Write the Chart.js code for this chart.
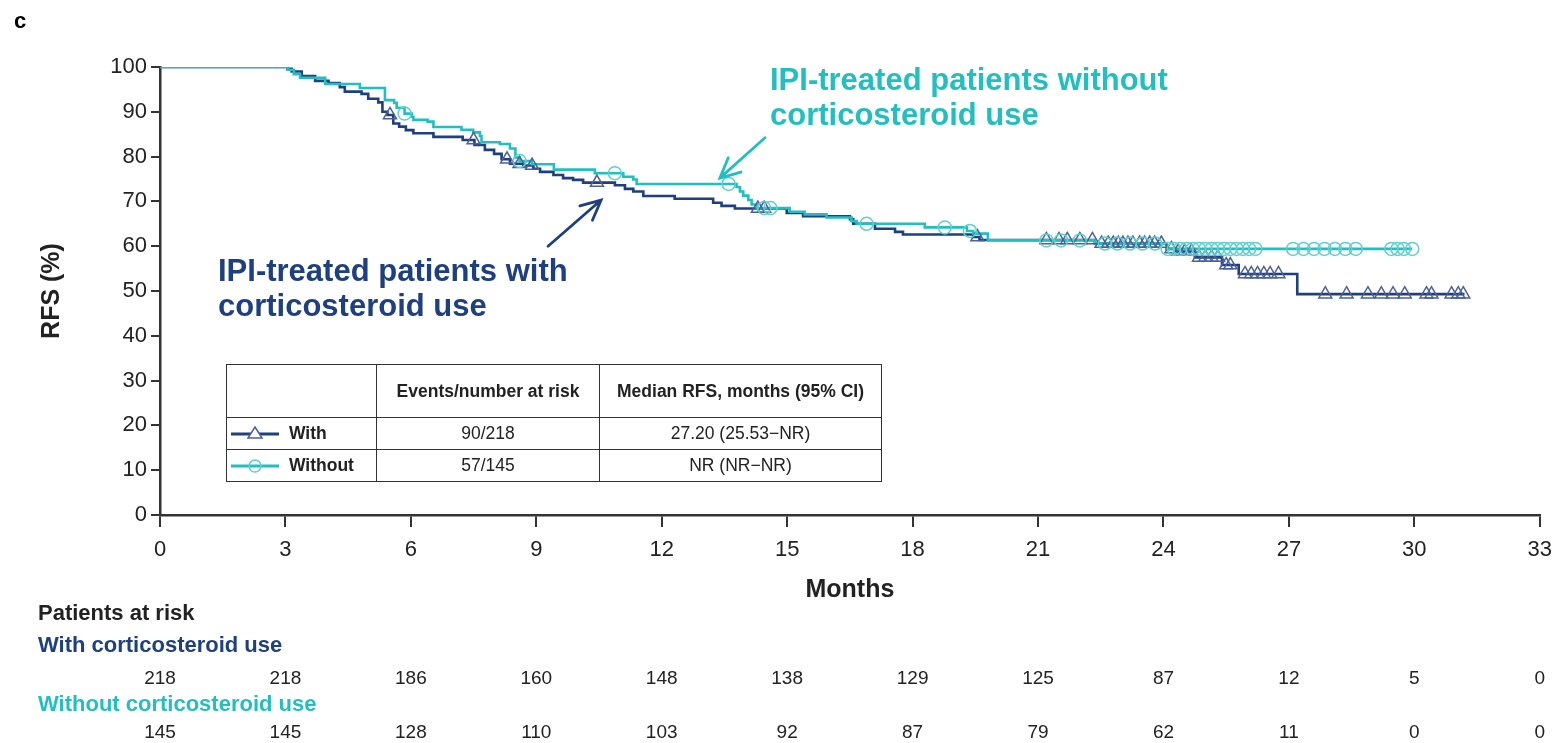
<!DOCTYPE html>
<html>
<head>
<meta charset="utf-8">
<script src="https://cdn.jsdelivr.net/npm/chart.js@4.4.0/dist/chart.umd.min.js"></script>
<style>
  body { margin: 0; background: #fff; font-family: "Liberation Sans", Arial, sans-serif; }
  #wrap { position: relative; width: 1562px; height: 743px; overflow: hidden; }
  #km { position: absolute; left: 0; top: 0; }
  .abs { position: absolute; white-space: nowrap; }
  .note { font-weight: bold; font-size: 31px; line-height: 35px; }
  #legtab { position: absolute; left: 226px; top: 364px; border-collapse: collapse; color: #222; font-size: 17.5px; }
  #legtab td { border: 1.5px solid #333; text-align: center; padding: 0; }
  #legtab .hd td { height: 52px; font-weight: bold; }
  #legtab .rw td { height: 31px; }
  #legtab td.nm { text-align: left; font-weight: bold; }
  #legtab svg { vertical-align: middle; margin: 0 10px 0 4px; }
  .risk { font-size: 19px; line-height: 22px; color: #222; transform: translateX(-50%); }
  .rlab { font-size: 22px; line-height: 26px; font-weight: bold; left: 38px; }
</style>
</head>
<body>
<div id="wrap">
  <canvas id="km" width="1562" height="743"></canvas>
  <div class="abs" style="left:14px;top:8px;font-weight:bold;font-size:22px;">c</div>
  <div class="abs note" style="left:770px;top:62px;color:#22bfc0;">IPI-treated patients without<br>corticosteroid use</div>
  <div class="abs note" style="left:218px;top:253px;color:#1e3f80;">IPI-treated patients with<br>corticosteroid use</div>
  <table id="legtab">
    <tr class="hd"><td style="width:149px"></td><td style="width:222px">Events/number at risk</td><td style="width:281px">Median RFS, months (95% CI)</td></tr>
    <tr class="rw"><td class="nm"><svg width="48" height="16"><line x1="0" y1="8" x2="48" y2="8" stroke="#1e3f80" stroke-width="3"/><polygon points="24,1 31,12 17,12" fill="#fff" stroke="#4d6199" stroke-width="1.5"/></svg>With</td><td>90/218</td><td>27.20 (25.53&minus;NR)</td></tr>
    <tr class="rw"><td class="nm"><svg width="48" height="16"><line x1="0" y1="8" x2="48" y2="8" stroke="#22bfc0" stroke-width="3"/><circle cx="24" cy="8" r="6" fill="none" stroke="#5fcfcf" stroke-width="1.5"/></svg>Without</td><td>57/145</td><td>NR (NR&minus;NR)</td></tr>
  </table>
  <div class="abs rlab" style="top:600px;color:#222;">Patients at risk</div>
  <div class="abs rlab" style="top:632px;color:#1e3f80;">With corticosteroid use</div>
  <div class="abs rlab" style="top:691px;color:#22bfc0;">Without corticosteroid use</div>
</div>
<script>
// Kaplan-Meier RFS, months vs %
const monthTicks = [0, 3, 6, 9, 12, 15, 18, 21, 24, 27, 30, 33];

// with corticosteroid use (step times / RFS after drop)
const withT = [0,3.05,3.15,3.39,3.71,4.03,4.3,4.42,4.82,4.98,5.22,5.32,5.44,5.58,5.72,5.88,6.06,6.54,7.24,7.52,7.77,7.99,8.17,8.37,8.69,8.93,9.09,9.41,9.64,9.88,10.12,10.88,11.12,11.32,11.56,12.31,13.23,13.43,13.75,14.99,15.38,16.5,16.58,17.1,17.58,17.77,19.45,19.6,22.36,24.07,24.3,24.75,25.4,25.8,27.2,31.2];
const withS = [100,99.6,99.0,98.0,96.9,96.4,95.5,94.5,94.0,92.9,92.1,90.0,89.3,87.4,86.7,85.9,85.2,84.4,83.7,82.6,81.5,80.6,79.4,78.4,78.0,77.3,76.6,75.9,75.2,74.8,74.2,73.6,72.8,72.2,71.2,70.6,69.7,69.0,68.4,67.4,66.7,66.0,65.0,63.9,63.2,62.6,62.05,61.4,60.6,59.4,58.8,57.5,55.8,53.8,49.3,49.3];
const withCensor = [5.5,7.5,8.3,8.6,8.9,10.45,14.3,14.45,19.55,21.2,21.5,21.7,22.0,22.3,22.52,22.68,22.8,22.92,23.03,23.15,23.27,23.43,23.55,23.67,23.79,23.95,24.19,24.35,24.51,24.67,24.85,25.0,25.15,25.3,25.5,25.6,25.95,26.1,26.25,26.4,26.55,26.75,27.87,28.38,28.89,29.21,29.49,29.77,30.29,30.41,30.89,31.05,31.17];

// without corticosteroid use
const woT = [0,3.05,3.2,3.35,3.95,4.78,5.38,5.6,5.66,5.85,6.02,6.06,6.4,6.54,7.21,7.49,7.65,7.69,8.13,8.37,8.5,8.6,8.89,9.42,10.4,11.08,11.32,11.4,13.79,13.87,13.95,14.07,14.15,14.27,15.06,15.42,15.94,16.54,16.66,18.29,19.3,19.45,19.8,22.36,24.07,29.95];
const woS = [100,99.4,98.4,97.6,96.2,95.3,92.6,92.0,90.9,89.6,88.9,88.2,87.8,86.6,86.0,85.4,84.6,83.2,82.8,81.8,79.8,79.0,78.3,77.1,76.3,75.5,74.9,73.9,73.2,72.2,71.3,70.3,69.3,68.5,67.7,67.1,66.4,65.6,65.0,64.2,63.4,62.8,61.3,60.6,59.4,59.4];
const woCensor = [5.85,8.6,10.88,13.6,14.45,14.6,16.9,18.77,19.37,21.2,21.55,22.0,22.6,22.9,23.2,23.5,23.8,24.1,24.25,24.4,24.55,24.7,24.85,25.0,25.15,25.3,25.45,25.6,25.75,25.9,26.05,26.2,27.1,27.35,27.6,27.85,28.1,28.35,28.6,29.45,29.6,29.75,29.95];

// patients at risk
const riskWith = [218, 218, 186, 160, 148, 138, 129, 125, 87, 12, 5, 0];
const riskWithout = [145, 145, 128, 110, 103, 92, 87, 79, 62, 11, 0, 0];

const DARK = '#1e3f80', TEAL = '#22bfc0';

// annotation arrows, in data units [month, %]
const arrows = [
  { from: [14.47, 84.2], to: [13.39, 75.2], color: TEAL },
  { from: [9.28, 60.0], to: [10.55, 70.3], color: DARK }
];

function stepAt(T, S, t) {
  var v = S[0];
  for (var i = 0; i < T.length; i++) { if (T[i] <= t) v = S[i]; }
  return v;
}
function pts(T, S) { return T.map(function (t, i) { return { x: t, y: S[i] }; }); }
function censorPts(C, T, S) { return C.map(function (t) { return { x: t, y: stepAt(T, S, t) }; }); }

const arrowPlugin = {
  id: 'arrows',
  afterDatasetsDraw(chart) {
    const ctx = chart.ctx, xs = chart.scales.x, ys = chart.scales.y;
    arrows.forEach(function (a) {
      const x1 = xs.getPixelForValue(a.from[0]), y1 = ys.getPixelForValue(a.from[1]);
      const x2 = xs.getPixelForValue(a.to[0]), y2 = ys.getPixelForValue(a.to[1]);
      const ang = Math.atan2(y2 - y1, x2 - x1), L = 22, sp = 0.45;
      ctx.save();
      ctx.strokeStyle = a.color;
      ctx.lineWidth = 2.8;
      ctx.lineCap = 'round';
      ctx.beginPath();
      ctx.moveTo(x1, y1); ctx.lineTo(x2, y2);
      ctx.moveTo(x2 - L * Math.cos(ang - sp), y2 - L * Math.sin(ang - sp));
      ctx.lineTo(x2, y2);
      ctx.lineTo(x2 - L * Math.cos(ang + sp), y2 - L * Math.sin(ang + sp));
      ctx.stroke();
      ctx.restore();
    });
  }
};

const tickFont = { family: '"Liberation Sans", Arial, sans-serif', size: 22 };
const titleFont = { family: '"Liberation Sans", Arial, sans-serif', size: 25, weight: 'bold' };

const chart = new Chart(document.getElementById('km').getContext('2d'), {
  type: 'line',
  data: {
    datasets: [
      { label: 'Without censor', type: 'scatter', data: censorPts(woCensor, woT, woS), pointStyle: 'circle', pointRadius: 6.5, borderColor: '#5fcfcf', backgroundColor: 'rgba(255,255,255,0)', borderWidth: 1.5, order: 0 },
      { label: 'With censor', type: 'scatter', data: censorPts(withCensor, withT, withS), pointStyle: 'triangle', pointRadius: 7.5, borderColor: '#4d6199', backgroundColor: 'rgba(255,255,255,0)', borderWidth: 1.5, order: 0 },
      { label: 'Without', data: pts(woT, woS), stepped: 'before', borderColor: TEAL, borderWidth: 2.6, pointRadius: 0, fill: false, order: 1 },
      { label: 'With', data: pts(withT, withS), stepped: 'before', borderColor: DARK, borderWidth: 2.6, pointRadius: 0, fill: false, order: 2 }
    ]
  },
  options: {
    responsive: false,
    animation: false,
    layout: { padding: { left: 0, top: 67, right: 22, bottom: 0 } },
    plugins: { legend: { display: false }, tooltip: { enabled: false } },
    scales: {
      x: {
        type: 'linear', min: 0, max: 33,
        afterBuildTicks: function (s) { s.ticks = monthTicks.map(function (v) { return { value: v }; }); },
        ticks: { font: tickFont, color: '#222', padding: 10, maxRotation: 0 },
        grid: { drawOnChartArea: false, drawTicks: true, tickLength: 12, color: '#333', lineWidth: 2 },
        border: { display: true, color: '#333', width: 2.5 },
        title: { display: true, text: 'Months', font: titleFont, color: '#222', padding: { top: 0, bottom: 138 } },
        afterFit: function (s) { s.height = 228; }
      },
      y: {
        min: 0, max: 100,
        ticks: { stepSize: 10, font: tickFont, color: '#222', padding: 4 },
        grid: { drawOnChartArea: false, drawTicks: true, tickLength: 9, color: '#333', lineWidth: 2 },
        border: { display: true, color: '#333', width: 2.5 },
        title: { display: true, text: 'RFS (%)', font: titleFont, color: '#222', padding: { top: 37, bottom: 0 } },
        afterFit: function (s) { s.width = 160; }
      }
    }
  },
  plugins: [arrowPlugin]
});

// patients-at-risk numbers under each month tick
var wrap = document.getElementById('wrap');
function riskRow(vals, top) {
  monthTicks.forEach(function (m, i) {
    var d = document.createElement('div');
    d.className = 'abs risk';
    d.style.left = chart.scales.x.getPixelForValue(m) + 'px';
    d.style.top = top + 'px';
    d.textContent = vals[i];
    wrap.appendChild(d);
  });
}
riskRow(riskWith, 667);
riskRow(riskWithout, 721);
</script>
</body>
</html>
